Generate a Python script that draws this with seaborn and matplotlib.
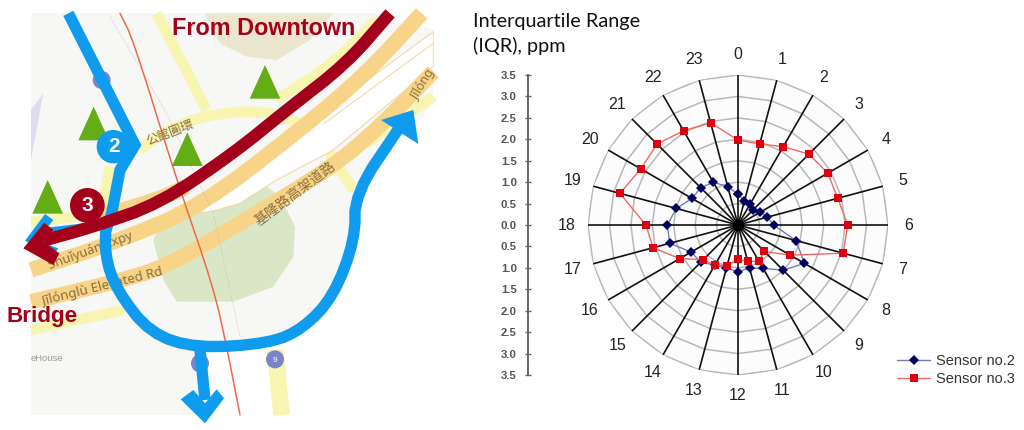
import numpy as np
import pandas as pd
import matplotlib
matplotlib.use("Agg")
import matplotlib.pyplot as plt
from matplotlib.patches import Polygon, Circle
import seaborn as sns

# chart values
hours = list(range(24))
sensor_2 = [0.72, 0.58, 0.57, 0.48, 0.60, 0.71, 0.83, 1.40, 1.79, 1.49, 1.17, 1.04,
            1.09, 1.04, 1.08, 1.23, 1.26, 1.65, 1.65, 1.49, 1.24, 1.23, 1.15, 0.93]
sensor_3 = [1.98, 1.96, 2.11, 2.34, 2.42, 2.41, 2.56, 2.54, 1.41, 0.87, 0.98, 0.88,
            0.80, 0.98, 1.09, 1.14, 1.57, 2.05, 2.15, 2.85, 2.62, 2.67, 2.54, 2.47]
ring_values = [0.5, 1.0, 1.5, 2.0, 2.5, 3.0, 3.5]
scale_ticks = [-3.5, -3.0, -2.5, -2.0, -1.5, -1.0, -0.5, 0.0, 0.5, 1.0, 1.5, 2.0, 2.5, 3.0, 3.5]

# map shapes, in units of 1/3 pixel with y going down
park = [(460, 720), (480, 680), (560, 610), (740, 515), (840, 590), (885, 680), (880, 770),
        (820, 860), (700, 905), (530, 905), (490, 840)]
tan_block = [(615, 40), (1000, 40), (930, 120), (830, 180), (740, 170), (660, 130)]
lavender = [(93, 480), (130, 280), (93, 330)]
white_lower = [(1300, 310), (1090, 570), (1060, 720), (1000, 890), (910, 985), (810, 1040),
               (620, 1060), (620, 1245), (1300, 1245)]
white_upper = [(1180, 40), (1300, 40), (1300, 90), (1200, 60)]
white_strip = [(600, 640), (640, 600), (750, 510), (940, 360), (1300, 95), (1300, 200),
               (1000, 450), (830, 540), (720, 610), (650, 630)]
strip_line = [(970, 372), (1300, 130)]
pale_roads = [
    [(470, 40), (620, 330)],
    [(420, 450), (500, 390), (620, 345), (780, 330), (900, 370)],
    [(830, 300), (1000, 190), (1130, 60)],
    [(930, 370), (1060, 570)],
    [(93, 990), (370, 930)],
    [(825, 1050), (845, 1245)],
    [(1300, 290), (1100, 430)],
    [(330, 500), (300, 650)],
    [(93, 665), (310, 640)],
]
orange_roads = [
    [(93, 810), (350, 725), (600, 620), (900, 390), (1100, 220), (1265, 40)],
    [(93, 905), (330, 850), (500, 800), (720, 670), (1000, 500), (1150, 370), (1300, 215)],
    [(300, 650), (470, 600), (560, 560)],
]
rail_red = [(360, 40), (400, 120), (530, 540), (640, 860), (680, 1040), (720, 1245)]
rail_grey = [(330, 50), (500, 340), (640, 640), (720, 1010)]
blue_top = [(205, 40), (405, 435), (360, 510), (335, 640), (318, 690)]
blue_spur = [(318, 672), (150, 692)]
blue_loop = [(318, 660), (315, 770), (350, 870), (450, 1000), (590, 1045), (810, 1030),
             (910, 985), (1000, 890), (1065, 720), (1065, 580), (1200, 380)]
blue_down = [(600, 1050), (615, 1200)]
blue_head_up = [(1143, 360), (1240, 330), (1255, 432)]
blue_head_down = [(542, 1198), (580, 1170), (615, 1210), (650, 1168), (672, 1195), (615, 1270)]
blue_head_left = [(75, 722), (135, 642), (160, 660), (110, 722), (175, 745), (160, 765)]
red_route = [(1170, 40), (1040, 190), (860, 330), (700, 460), (480, 610), (280, 680), (130, 722)]
red_head = [(70, 745), (133, 668), (160, 690), (130, 725), (178, 760), (160, 795)]
triangles = [(795, 195), (281, 320), (562, 397), (143, 540)]

BLUE = "#0f9bee"
DARK_RED = "#a3001b"
MAP_TEXT = "#8a6f3c"

sns.set_theme(style="white")
plt.rcParams["font.family"] = ["Liberation Sans", "Noto Sans CJK SC", "DejaVu Sans"]


def lw(units):
    # line width from map units to points
    return units / 3 * 0.72


def soften(points, rounds=2):
    # corner cutting so the drawn roads do not look like polylines
    pts = np.array(points, dtype=float)
    for _ in range(rounds):
        q = 0.75 * pts[:-1] + 0.25 * pts[1:]
        r = 0.25 * pts[:-1] + 0.75 * pts[1:]
        mid = np.empty((2 * len(q), 2))
        mid[0::2] = q
        mid[1::2] = r
        pts = np.vstack([pts[0], mid, pts[-1]])
    return pts[:, 0], pts[:, 1]


fig = plt.figure(figsize=(10.24, 4.3), dpi=100)

# ---- map on the left ----
mp = fig.add_axes([0, 0, 1, 1])
mp.set_xlim(0, 3072)
mp.set_ylim(1290, 0)
mp.axis("off")

mp.add_patch(Polygon([(93, 40), (1300, 40), (1300, 1245), (93, 1245)], fc="#f7f7f5", ec="none", zorder=1))
mp.add_patch(Polygon(tan_block, fc="#ece6cf", ec="none", zorder=1))
mp.add_patch(Polygon(lavender, fc="#dddded", ec="none", zorder=1))
mp.add_patch(Polygon(park, fc="#d9e7c6", ec="none", zorder=1))
mp.add_patch(Polygon(white_lower, fc="white", ec="none", zorder=1))
mp.add_patch(Polygon(white_upper, fc="white", ec="none", zorder=1))
for i, road in enumerate(pale_roads):
    mp.plot(*soften(road), color="#f8f5b0", lw=lw(50 if i == 5 else 32), solid_capstyle="butt", zorder=2)
for road in orange_roads:
    mp.plot(*soften(road), color="#f7d487", lw=lw(46), solid_capstyle="butt", zorder=2.2)
mp.add_patch(Polygon(white_strip, fc="white", ec="#f3d9a8", lw=0.8, zorder=2.1))
xs, ys = zip(*strip_line)
mp.plot(xs, ys, color="#f3d9a8", lw=0.8, zorder=2.15)
xs, ys = zip(*rail_grey)
mp.plot(xs, ys, color="#bbbbbb", lw=0.6, ls=":", zorder=2.3)
mp.plot(*soften(rail_red), color="#ee6a4c", lw=1.1, zorder=2.4)

for shield in [(305, 240), (600, 1090), (825, 1078)]:
    mp.add_patch(Circle(shield, 27, fc="#7c84c8", ec="none", zorder=2.6))
mp.text(825, 1080, "9", color="white", fontsize=6, ha="center", va="center", zorder=2.7)

for tx, ty in triangles:
    mp.add_patch(Polygon([(tx, ty), (tx - 46, ty + 101), (tx + 46, ty + 101)], fc="#63ad17", ec="none", zorder=3))

label_kw = dict(color=MAP_TEXT, ha="center", va="center", rotation_mode="anchor", zorder=2.7)
mp.text(510, 398, "公館圓環", rotation=21, fontsize=9, family=["Noto Sans CJK SC"], **label_kw)
mp.text(885, 580, "基隆路高架道路", rotation=37, fontsize=10, family=["Noto Sans CJK SC"], **label_kw)
mp.text(272, 752, "Shuǐyuán Expy", rotation=20, fontsize=9.4, family=["Noto Sans", "DejaVu Sans"], **label_kw)
mp.text(308, 860, "Jīlónglù Elevated Rd", rotation=14, fontsize=9.6, family=["Noto Sans", "DejaVu Sans"], **label_kw)
mp.text(1270, 255, "Jīlóng", rotation=58, fontsize=9, family=["Noto Sans", "DejaVu Sans"], **label_kw)
mp.text(93, 1076, "eHouse", fontsize=6.8, color="#999999", ha="left", va="center", zorder=2.7)

# routes
mp.plot(*zip(*blue_top), color=BLUE, lw=lw(34), solid_capstyle="butt", solid_joinstyle="miter", zorder=4)
mp.plot(*zip(*blue_spur), color=BLUE, lw=lw(20), solid_capstyle="butt", zorder=4)
mp.plot(*soften(blue_loop), color=BLUE, lw=lw(34), solid_capstyle="butt", zorder=4)
mp.plot(*zip(*blue_down), color=BLUE, lw=lw(34), solid_capstyle="butt", zorder=4)
for head in [blue_head_up, blue_head_down, blue_head_left]:
    mp.add_patch(Polygon(head, fc=BLUE, ec="none", zorder=4))
mp.add_patch(Circle((340, 440), 50, fc=BLUE, ec="none", zorder=4))
mp.plot(*soften(red_route), color=DARK_RED, lw=lw(37), solid_capstyle="butt", zorder=5)
mp.add_patch(Polygon(red_head, fc=DARK_RED, ec="none", zorder=5))
mp.add_patch(Circle((262, 616), 52, fc=DARK_RED, ec="none", zorder=6))
mp.text(342, 441, "2", color="white", fontsize=15, fontweight="bold", ha="center", va="center", zorder=7)
mp.text(263, 617, "3", color="white", fontsize=15, fontweight="bold", ha="center", va="center", zorder=7)

mp.text(515, 86, "From Downtown", color=DARK_RED, fontsize=16.8, fontweight="bold", ha="left", va="center", zorder=7)
mp.text(20, 950, "Bridge", color=DARK_RED, fontsize=16.2, fontweight="bold", ha="left", va="center", zorder=7)

# ---- title ----
fig.text(473 / 1024, 1 - 21 / 430, "Interquartile Range", fontsize=14.3, family=["Lato"], va="center", color="#111111")
fig.text(473 / 1024, 1 - 46 / 430, "(IQR), ppm", fontsize=14.3, family=["Lato"], va="center", color="#111111")

# ---- radar ----
df = pd.DataFrame({
    "hour": hours * 2 + [24, 24],
    "iqr": sensor_2 + sensor_3 + [sensor_2[0], sensor_3[0]],
    "sensor": ["Sensor no.2"] * 24 + ["Sensor no.3"] * 24 + ["Sensor no.2", "Sensor no.3"],
})
df = df.sort_values(["sensor", "hour"])
df["theta"] = df["hour"] / 24 * 2 * np.pi

ax = fig.add_axes([588 / 1024, 55 / 430, 300 / 1024, 300 / 430], projection="polar")
ax.set_theta_zero_location("N")
ax.set_theta_direction(-1)
ax.set_facecolor("none")
ax.spines["polar"].set_visible(False)

ring_theta = np.arange(25) / 24 * 2 * np.pi
ax.fill(ring_theta, [ring_values[-1]] * 25, color="#fcfcfc", zorder=0)
for r in ring_values:
    ax.plot(ring_theta, [r] * 25, color="#b8b8b8", lw=1.1, zorder=1)

ax.set_xticks(np.array(hours) / 24 * 2 * np.pi, [str(h) for h in hours], fontsize=11.5, color="#222222")
ax.tick_params(axis="x", pad=2)
ax.set_yticks([])
ax.xaxis.grid(True, color="#111111", lw=1.2)
ax.set_axisbelow(False)
ax.set_ylim(0, 3.5)

n_before = len(ax.lines)
sns.lineplot(data=df, x="theta", y="iqr", hue="sensor", style="sensor",
             palette={"Sensor no.2": "#000060", "Sensor no.3": "#dd0010"},
             markers={"Sensor no.2": "D", "Sensor no.3": "s"}, dashes=False,
             estimator=None, sort=False, legend=False, ax=ax, zorder=5)
series = ax.lines[n_before:]
line_cols = ["#7a7ab4", "#f06a64"]
face_cols = ["#000060", "#dd0010"]
sizes = [4.6, 5.6]
for ln, lc, fc, ms in zip(series, line_cols, face_cols, sizes):
    ln.set_color(lc)
    ln.set_linewidth(1.0)
    ln.set_markerfacecolor(fc)
    ln.set_markeredgecolor(fc)
    ln.set_markeredgewidth(0)
    ln.set_markersize(ms)
    ln.set_zorder(5)
ax.set_xlabel("")
ax.set_ylabel("")
ax.set_ylim(0, 3.5)
# hub where the spokes meet
ax.scatter([0], [0], s=70, color="black", zorder=4, linewidths=0)

fig.legend(handles=series, labels=["Sensor no.2", "Sensor no.3"], loc="lower left",
           bbox_to_anchor=(894 / 1024, 1 - 389 / 430), frameon=False, fontsize=10.5,
           labelcolor="#333333", handlelength=2.3, handletextpad=0.35, labelspacing=0.3,
           borderaxespad=0, borderpad=0.2)

# ---- mirrored scale left of the radar ----
sc = fig.add_axes([528 / 1024, 55 / 430, 0.001, 300 / 430])
sc.set_ylim(-3.5, 3.5)
sc.set_xticks([])
sc.set_yticks(scale_ticks, [f"{abs(v):.1f}" for v in scale_ticks], fontsize=8.2, fontweight="bold", color="#555555")
sc.tick_params(axis="y", left=True, direction="inout", length=4, width=1.0, color="#666666", pad=6)
sc.set_facecolor("none")
sns.despine(ax=sc, top=True, right=True, bottom=True)
sc.spines["left"].set_color("#666666")
sc.spines["left"].set_linewidth(1.4)

fig.savefig("out.png", dpi=100)
